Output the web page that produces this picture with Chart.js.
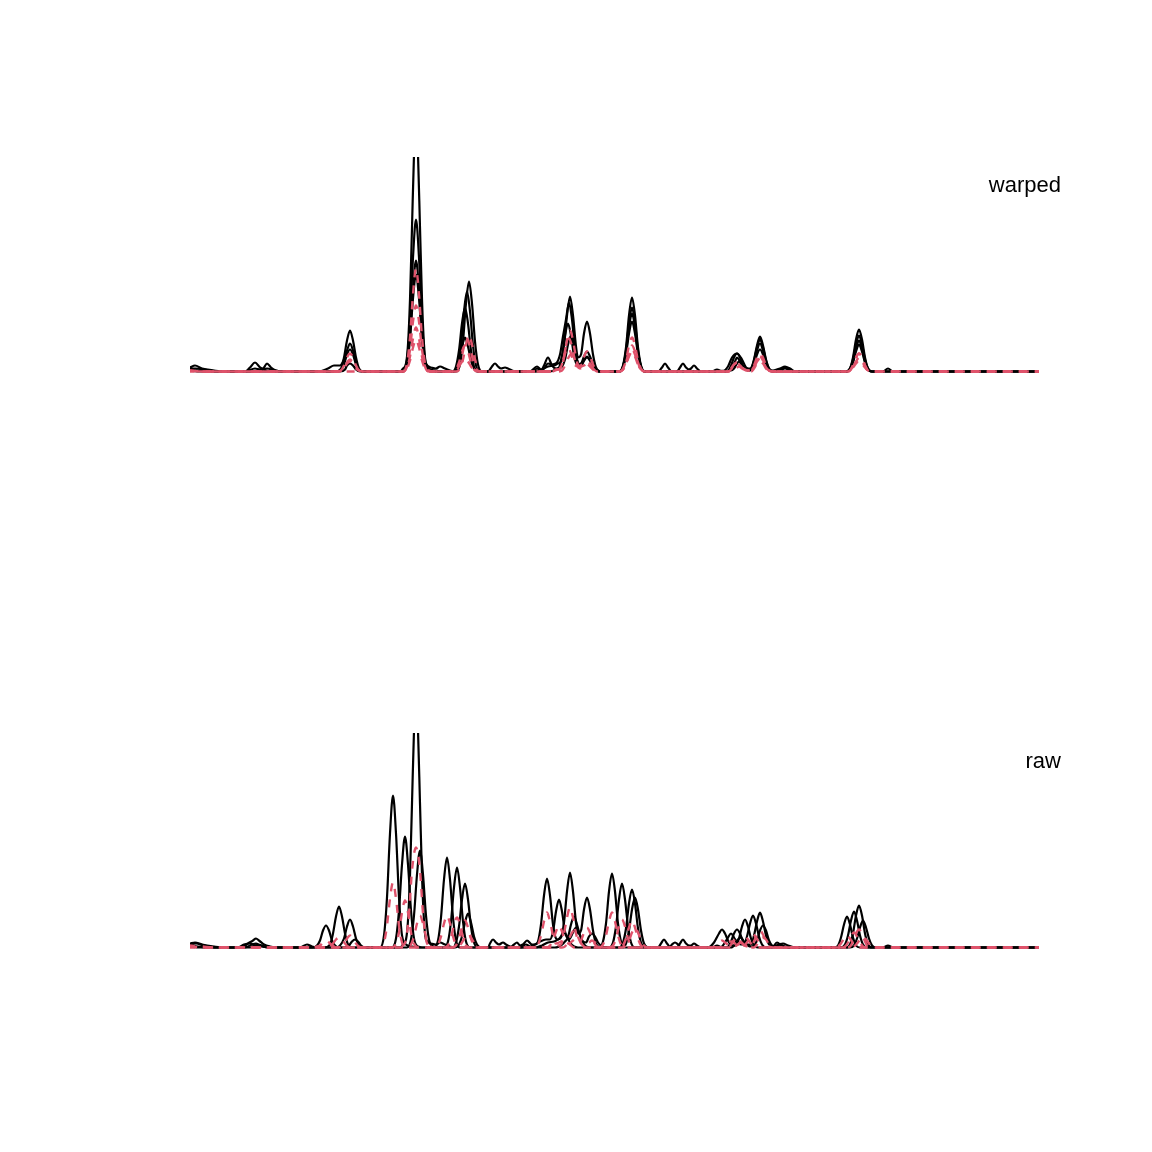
<!DOCTYPE html>
<html>
<head>
<meta charset="utf-8">
<title>warped and raw</title>
<script src="https://cdn.jsdelivr.net/npm/chart.js@4"></script>
<style>
html,body{margin:0;padding:0;background:#fff;}
#wrap{position:relative;width:1152px;height:1152px;overflow:hidden;}
canvas{position:absolute;left:0;}
.lab{position:absolute;right:91px;font:22px "Liberation Sans",Arial,sans-serif;line-height:24px;color:#000;}
</style>
</head>
<body>
<div id="wrap">
<canvas id="warpedChart" style="top:0"></canvas>
<canvas id="rawChart" style="top:576px"></canvas>
<div class="lab" style="top:173px">warped</div>
<div class="lab" style="top:749px">raw</div>
</div>
<script>
// [time, intensity], one list per sample
var warpedA=[[0,4],[5,6],[12,3],[24,1],[34,0],[55,0],[60,4],[65,9],[70,4],[76,1],[84,0],[147,0],[151,2],[154,7],[157,17],[160,22],[163,17],[166,7],[169,2],[173,0],[213,0],[217,12],[220,50],[223,114],[226,152],[229,114],[232,50],[235,12],[239,3],[245,1],[252,0],[266,0],[270,7],[273,30],[276,68],[279,90],[282,68],[285,30],[288,7],[292,0],[340,0],[347,5],[351,2],[354,3],[358,8],[362,7],[366,8],[370,17],[373,35],[376,52],[379,69],[382,52],[385,23],[388,8],[391,5],[394,11],[397,15],[400,11],[403,5],[407,1],[412,0],[429,0],[433,6],[436,24],[439,56],[442,74],[445,56],[448,24],[451,6],[455,0],[532,0],[538,5],[542,14],[547,18],[552,12],[556,4],[561,2],[564,9],[567,21],[570,28],[573,21],[576,9],[579,2],[583,0],[590,2],[595,4],[600,1],[605,0],[656,0],[660,2],[663,10],[666,23],[669,31],[672,23],[675,10],[678,2],[682,0],[849,0]];
var warpedB=[[0,3],[6,3],[14,2],[26,0],[70,0],[74,4],[77,8],[81,4],[86,1],[92,0],[145,0],[151,3],[154,14],[157,31],[160,41],[163,31],[166,14],[169,3],[173,0],[213,0],[217,9],[220,37],[223,83],[226,111],[229,83],[232,37],[235,9],[239,1],[243,0],[264,0],[268,6],[271,26],[274,60],[277,80],[280,60],[283,26],[286,6],[290,0],[343,0],[347,3],[351,1],[354,6],[358,14],[362,6],[366,3],[369,4],[372,16],[375,36],[378,48],[381,36],[384,16],[387,7],[391,8],[394,15],[397,20],[400,15],[403,7],[407,1],[411,0],[429,0],[433,5],[436,21],[439,48],[442,64],[445,48],[448,21],[451,5],[455,0],[538,0],[542,4],[545,10],[547,14],[550,10],[554,3],[559,1],[561,3],[564,11],[567,24],[570,32],[573,24],[576,11],[579,3],[583,0],[590,1],[595,3],[600,1],[604,0],[656,0],[660,3],[663,12],[666,27],[669,36],[672,27],[675,12],[678,3],[682,0],[849,0]];
var warpedC=[[0,2],[8,1],[20,0],[128,0],[138,3],[144,6],[150,6],[154,12],[157,21],[160,28],[163,21],[166,9],[169,2],[173,0],[210,0],[213,3],[216,8],[218,27],[220,72],[222,144],[224,217],[226,250],[228,217],[230,144],[232,72],[234,27],[236,8],[241,4],[246,3],[250,5],[255,3],[260,1],[263,0],[266,5],[269,21],[272,48],[275,64],[278,48],[281,21],[284,5],[288,0],[298,0],[302,5],[305,8],[308,5],[311,3],[315,4],[318,3],[322,1],[326,0],[345,0],[352,2],[358,5],[364,6],[368,8],[371,10],[374,25],[377,56],[380,75],[383,56],[386,25],[388,14],[391,17],[394,38],[397,50],[400,38],[403,17],[406,4],[410,0],[429,0],[433,5],[436,19],[439,44],[442,58],[445,44],[448,19],[451,5],[455,0],[468,0],[472,4],[475,8],[478,4],[482,0],[487,0],[490,4],[493,8],[496,4],[499,2],[501,3],[504,6],[507,3],[511,0],[522,0],[527,2],[532,0],[537,0],[541,6],[544,14],[547,18],[550,14],[553,6],[556,3],[561,3],[564,12],[567,26],[570,35],[573,26],[576,12],[579,3],[583,1],[590,3],[595,5],[600,3],[605,0],[656,0],[660,3],[663,14],[666,32],[669,42],[672,32],[675,14],[678,3],[682,0],[693,0],[698,3],[703,0],[849,0]];
var warpedD=[[0,1],[10,0],[55,0],[65,3],[70,2],[77,3],[85,1],[95,0],[150,0],[155,2],[157,6],[160,8],[163,6],[166,2],[170,0],[213,0],[217,8],[220,32],[223,73],[226,97],[229,73],[232,32],[235,8],[239,1],[243,0],[262,0],[266,3],[269,11],[272,25],[275,34],[278,25],[281,11],[284,3],[288,0],[360,0],[368,3],[372,5],[375,12],[378,27],[381,36],[384,27],[387,12],[390,6],[394,11],[397,14],[400,11],[403,5],[407,1],[411,0],[429,0],[433,4],[436,17],[439,38],[442,50],[445,38],[448,17],[451,4],[455,0],[541,1],[544,3],[547,8],[549,10],[552,6],[556,2],[560,1],[564,7],[567,17],[570,22],[573,17],[576,7],[579,2],[583,0],[656,0],[660,2],[663,9],[666,20],[669,27],[672,20],[675,9],[678,2],[682,0],[849,0]];

var warpedMeanA=[[0,1],[15,0],[148,0],[151,1],[154,3],[157,8],[160,10],[163,8],[166,3],[169,1],[173,0],[213,0],[217,5],[220,22],[223,50],[226,66],[229,50],[232,22],[235,5],[239,0],[266,0],[270,3],[273,12],[276,27],[279,36],[282,27],[285,12],[288,3],[292,0],[362,0],[367,2],[370,3],[373,11],[376,25],[379,33],[382,25],[385,11],[388,4],[394,6],[397,8],[400,6],[403,3],[407,0],[429,0],[433,3],[436,11],[439,26],[442,34],[445,26],[448,11],[451,3],[455,0],[535,0],[541,3],[544,7],[547,9],[550,7],[553,3],[558,1],[561,1],[564,4],[567,10],[570,13],[573,10],[576,4],[579,1],[583,0],[656,0],[660,1],[663,5],[666,10],[669,14],[672,10],[675,5],[678,1],[682,0],[849,0]];
var warpedMeanB=[[0,1],[12,0],[148,0],[151,1],[154,6],[157,14],[160,18],[163,14],[166,6],[169,1],[173,0],[213,0],[217,4],[220,15],[223,33],[226,44],[229,33],[232,15],[235,4],[239,0],[264,0],[268,3],[271,11],[274,25],[277,33],[280,25],[283,11],[286,3],[290,0],[362,0],[366,2],[369,2],[372,8],[375,18],[378,24],[381,18],[384,8],[388,5],[394,8],[397,10],[400,8],[403,3],[407,0],[429,0],[433,2],[436,9],[439,20],[442,26],[445,20],[448,9],[451,2],[455,0],[538,0],[541,2],[544,6],[547,8],[550,6],[553,3],[558,1],[561,1],[564,5],[567,11],[570,15],[573,11],[576,5],[579,1],[583,0],[656,0],[660,1],[663,6],[666,14],[669,18],[672,14],[675,6],[678,1],[682,0],[849,0]];
var warpedMeanC=[[0,1],[12,0],[148,0],[151,1],[154,4],[157,9],[160,12],[163,9],[166,4],[169,1],[173,0],[213,0],[217,8],[220,34],[223,77],[226,103],[229,77],[232,34],[235,8],[239,1],[243,0],[262,0],[266,2],[269,9],[272,20],[275,26],[278,20],[281,9],[284,2],[288,0],[362,0],[368,2],[371,3],[374,14],[377,31],[380,41],[383,31],[386,14],[389,5],[391,7],[394,15],[397,20],[400,15],[403,7],[406,2],[410,0],[429,0],[433,2],[436,7],[439,17],[442,22],[445,17],[448,7],[451,2],[455,0],[538,0],[541,3],[544,7],[547,9],[550,7],[553,3],[558,1],[561,1],[564,6],[567,14],[570,18],[573,14],[576,6],[579,1],[583,0],[656,0],[660,1],[663,6],[666,14],[669,18],[672,14],[675,6],[678,1],[682,0],[849,0]];
var warpedMeanD=[[0,0],[213,0],[217,3],[220,11],[223,24],[226,32],[229,24],[232,11],[235,3],[239,0],[262,0],[266,1],[269,5],[272,10],[275,14],[278,10],[281,5],[284,1],[288,0],[368,0],[372,1],[375,6],[378,13],[381,17],[384,13],[387,6],[390,3],[394,5],[397,7],[400,5],[403,2],[407,0],[429,0],[433,2],[436,7],[439,15],[442,20],[445,15],[448,7],[451,2],[455,0],[541,0],[544,2],[547,4],[549,5],[552,3],[556,1],[561,0],[564,3],[567,8],[570,10],[573,8],[576,3],[579,1],[583,0],[656,0],[660,1],[663,4],[666,8],[669,11],[672,8],[675,4],[678,1],[682,0],[849,0]];

var rawA=[[0,4],[5,5],[12,3],[24,1],[34,0],[48,0],[54,3],[60,4],[65,2],[72,1],[80,0],[123,0],[127,2],[130,7],[133,17],[136,22],[139,17],[142,7],[145,2],[149,0],[190,0],[194,12],[197,50],[200,114],[203,152],[206,114],[209,50],[212,12],[216,3],[222,1],[228,0],[244,0],[248,7],[251,30],[254,68],[257,90],[260,68],[263,30],[266,7],[270,0],[320,0],[324,3],[327,5],[330,2],[333,3],[337,7],[342,3],[345,3],[348,6],[351,23],[354,52],[357,69],[360,52],[363,23],[366,9],[368,8],[371,11],[374,15],[377,11],[380,5],[384,1],[388,0],[409,0],[413,6],[416,24],[419,56],[422,74],[425,56],[428,24],[431,6],[435,0],[518,0],[524,5],[529,14],[532,18],[535,14],[539,5],[543,2],[546,2],[549,9],[552,21],[555,28],[558,21],[561,9],[564,2],[568,0],[582,0],[587,5],[592,1],[596,0],[644,0],[648,2],[651,10],[654,23],[657,31],[660,23],[663,10],[666,2],[670,0],[849,0]];
var rawB=[[0,3],[6,4],[14,2],[26,0],[52,0],[58,4],[63,7],[66,9],[69,7],[74,3],[80,1],[88,0],[134,0],[140,3],[143,14],[146,31],[149,41],[152,31],[155,14],[158,3],[162,0],[202,0],[206,9],[209,37],[212,83],[215,111],[218,83],[221,37],[224,9],[228,1],[232,0],[254,0],[258,6],[261,26],[264,60],[267,80],[270,60],[273,26],[276,6],[280,0],[330,0],[336,3],[340,1],[345,3],[350,6],[356,8],[360,8],[363,16],[366,36],[369,48],[372,36],[375,16],[379,8],[383,15],[386,20],[389,15],[392,7],[396,1],[400,0],[419,0],[423,5],[426,21],[429,48],[432,64],[435,48],[438,21],[441,5],[445,0],[530,0],[532,1],[535,5],[538,10],[541,14],[544,10],[547,5],[551,3],[554,3],[557,11],[560,24],[563,32],[566,24],[569,11],[572,3],[576,0],[586,0],[590,3],[595,1],[598,0],[651,0],[655,3],[658,12],[661,27],[664,36],[667,27],[670,12],[673,3],[677,0],[849,0]];
var rawC=[[0,2],[8,1],[20,0],[55,0],[62,3],[66,4],[70,2],[78,0],[110,0],[117,3],[122,1],[128,0],[147,0],[150,2],[154,9],[157,21],[160,28],[163,21],[166,9],[169,2],[173,0],[210,0],[213,3],[216,8],[218,27],[220,72],[222,144],[224,217],[226,250],[228,217],[230,144],[232,72],[234,27],[236,8],[241,4],[246,3],[250,5],[255,3],[260,1],[263,0],[266,5],[269,21],[272,48],[275,64],[278,48],[281,21],[284,5],[288,0],[298,0],[300,4],[303,8],[306,5],[309,3],[313,5],[316,3],[320,1],[324,0],[345,0],[352,2],[358,5],[364,6],[368,8],[371,10],[374,25],[377,56],[380,75],[383,56],[386,25],[388,14],[391,17],[394,38],[397,50],[400,38],[403,17],[406,4],[410,0],[429,0],[433,5],[436,19],[439,44],[442,58],[445,44],[448,19],[451,5],[455,0],[468,0],[471,4],[474,8],[477,4],[481,0],[487,0],[490,4],[493,8],[496,4],[499,2],[501,2],[504,4],[507,2],[511,0],[522,0],[527,2],[532,0],[537,0],[541,6],[544,14],[547,18],[550,14],[553,6],[556,3],[561,3],[564,12],[567,26],[570,35],[573,26],[576,12],[579,3],[583,1],[589,3],[593,4],[598,2],[605,0],[656,0],[660,3],[663,14],[666,32],[669,42],[672,32],[675,14],[678,3],[682,0],[693,0],[698,2],[703,0],[849,0]];
var rawD=[[0,1],[10,0],[60,0],[68,3],[75,1],[85,0],[155,0],[159,2],[162,6],[165,8],[168,6],[171,2],[175,0],[217,0],[221,8],[224,32],[227,73],[230,97],[233,73],[236,32],[239,8],[243,1],[247,0],[265,0],[269,3],[272,11],[275,25],[278,34],[281,25],[284,11],[287,3],[291,0],[365,0],[372,3],[375,6],[378,10],[381,23],[384,31],[387,23],[390,12],[393,6],[396,5],[399,11],[402,14],[405,11],[408,5],[412,1],[416,0],[432,0],[436,4],[439,17],[442,38],[445,50],[448,38],[451,17],[454,4],[458,0],[479,0],[482,3],[485,5],[488,3],[491,0],[541,0],[545,3],[548,8],[551,10],[554,6],[558,2],[561,1],[564,2],[567,7],[570,17],[573,22],[576,17],[579,7],[582,2],[586,0],[660,0],[664,2],[667,9],[670,20],[673,27],[676,20],[679,9],[682,2],[686,0],[849,0]];

var rawMeanA=[[0,2],[12,1],[25,0],[124,0],[127,1],[130,2],[133,5],[136,7],[139,5],[142,2],[145,1],[149,0],[190,0],[194,5],[197,22],[200,49],[203,65],[206,49],[209,22],[212,5],[216,0],[244,0],[248,3],[251,11],[254,24],[257,32],[260,24],[263,11],[266,3],[270,0],[340,0],[345,1],[348,3],[351,12],[354,26],[357,35],[360,26],[363,12],[366,4],[371,6],[374,8],[377,6],[380,3],[384,0],[409,0],[413,3],[416,12],[419,26],[422,35],[425,26],[428,12],[431,3],[435,0],[522,0],[526,2],[529,5],[532,7],[535,5],[539,2],[544,1],[549,4],[552,8],[555,11],[558,8],[561,4],[564,1],[568,0],[644,0],[648,1],[651,4],[654,9],[657,12],[660,9],[663,4],[666,1],[670,0],[849,0]];
var rawMeanB=[[0,1],[15,0],[136,0],[140,1],[143,4],[146,8],[149,10],[152,8],[155,4],[158,1],[162,0],[202,0],[206,4],[209,15],[212,35],[215,47],[218,35],[221,15],[224,4],[228,0],[254,0],[258,2],[261,10],[264,23],[267,30],[270,23],[273,10],[276,2],[280,0],[356,0],[360,2],[363,7],[366,16],[369,22],[372,16],[375,7],[379,4],[383,7],[386,9],[389,7],[392,3],[396,0],[419,0],[423,2],[426,9],[429,21],[432,28],[435,21],[438,9],[441,2],[445,0],[532,0],[535,2],[538,5],[541,6],[544,5],[547,2],[551,1],[554,2],[557,5],[560,10],[563,13],[566,10],[569,5],[572,1],[576,0],[651,0],[655,1],[658,5],[661,11],[664,15],[667,11],[670,5],[673,1],[677,0],[849,0]];
var rawMeanC=[[0,1],[12,0],[148,0],[151,1],[154,4],[157,9],[160,12],[163,9],[166,4],[169,1],[173,0],[210,0],[213,2],[216,8],[219,34],[222,77],[226,100],[230,77],[233,34],[236,8],[240,1],[244,0],[262,0],[266,2],[269,9],[272,20],[275,27],[278,20],[281,9],[284,2],[288,0],[362,0],[368,2],[371,3],[374,14],[377,30],[380,40],[383,30],[386,14],[389,5],[391,7],[394,15],[397,20],[400,15],[403,7],[406,2],[410,0],[429,0],[433,2],[436,9],[439,20],[442,27],[445,20],[448,9],[451,2],[455,0],[538,0],[541,3],[544,7],[547,9],[550,7],[553,3],[558,1],[561,1],[564,6],[567,13],[570,17],[573,13],[576,6],[579,1],[583,0],[656,0],[660,1],[663,6],[666,14],[669,18],[672,14],[675,6],[678,1],[682,0],[849,0]];
var rawMeanD=[[0,0],[217,0],[221,3],[224,11],[227,24],[230,32],[233,24],[236,11],[239,3],[243,0],[265,0],[269,1],[272,5],[275,10],[278,14],[281,10],[284,5],[287,1],[291,0],[372,0],[375,1],[378,6],[381,13],[384,17],[387,13],[390,6],[393,3],[399,5],[402,7],[405,5],[408,2],[412,0],[432,0],[436,2],[439,7],[442,15],[445,20],[448,15],[451,7],[454,2],[458,0],[545,0],[548,3],[551,5],[554,3],[558,1],[564,0],[567,3],[570,8],[573,10],[576,8],[579,3],[582,1],[586,0],[660,0],[664,1],[667,4],[670,8],[673,11],[676,8],[679,4],[682,1],[686,0],[849,0]];

// let the flat base line show below the plot edge, the top stays cut off
var lineClip={left:0,top:0,right:0,bottom:4};

function sample(d){
	return {data:d,borderColor:'#000',borderWidth:2.2,pointRadius:0,cubicInterpolationMode:'monotone',order:2,clip:lineClip};
}
// all dashes should meet at the right hand end, like they do on the flat part of the original
function pathLength(d){
	var total=0;
	for(var i=1;i<d.length;i++){
		total+=Math.hypot(d[i][0]-d[i-1][0],d[i][1]-d[i-1][1]);
	}
	return total;
}
function mean(d){
	return {data:d,borderColor:'#DF536B',borderWidth:2.4,borderDash:[8,8],borderDashOffset:16-(pathLength(d)%16),pointRadius:0,cubicInterpolationMode:'monotone',order:1,clip:lineClip};
}
function drawPanel(id,samples,means){
	var canvas=document.getElementById(id);
	canvas.width=1152;
	canvas.height=576;
	canvas.style.width='1152px';
	canvas.style.height='576px';
	new Chart(canvas,{
		type:'line',
		data:{datasets:samples.map(sample).concat(means.map(mean))},
		options:{
			responsive:false,
			animation:false,
			layout:{padding:{left:190,right:113,top:157,bottom:204.5}},
			plugins:{legend:{display:false},tooltip:{enabled:false}},
			scales:{
				x:{type:'linear',min:0,max:849,display:false},
				y:{min:0,max:214.5,display:false}
			}
		}
	});
}
drawPanel('warpedChart',[warpedA,warpedB,warpedC,warpedD],[warpedMeanA,warpedMeanB,warpedMeanC,warpedMeanD]);
drawPanel('rawChart',[rawA,rawB,rawC,rawD],[rawMeanA,rawMeanB,rawMeanC,rawMeanD]);
</script>
</body>
</html>
